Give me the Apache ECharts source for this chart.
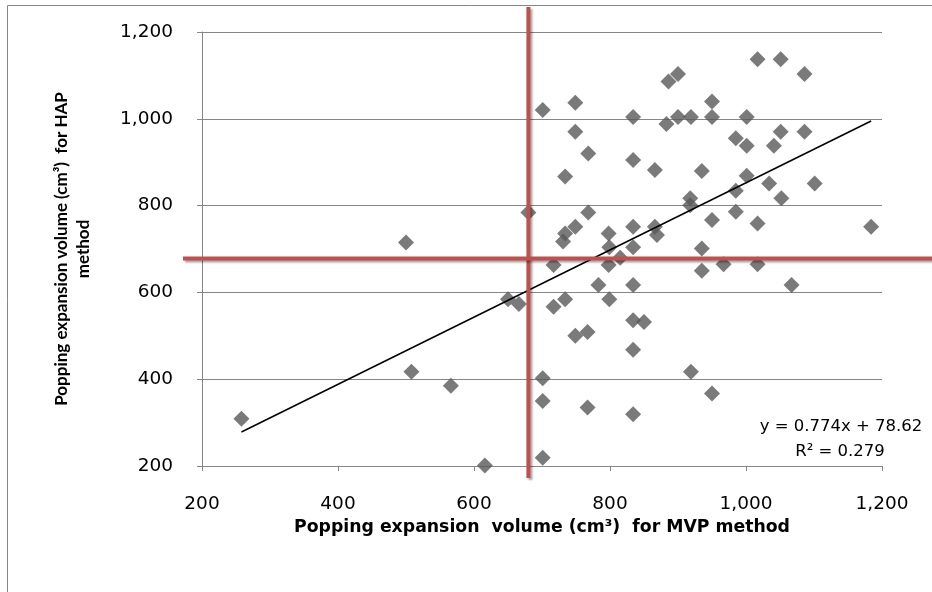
<!DOCTYPE html>
<html><head><meta charset="utf-8">
<script src="https://cdn.jsdelivr.net/npm/echarts@6/dist/echarts.min.js"></script>
<style>html,body{margin:0;padding:0;background:#fff}#c{width:932px;height:592px}</style>
</head><body><div id="c"></div>
<script>
// MVP method (x) and HAP method (y) popping expansion volumes
const mvp = [258,500,508,566,616,650,666,680,701,701,701,701,717,717,731,734,734,734,749,749,749,749,767,768,768,767,783,798,799,798,799,815,834,834,834,834,834,834,834,834,850,866,866,869,883,886,900,900,919,918,918,935,935,935,919,950,950,950,950,967,985,985,985,1001,1001,1001,1017,1017,1017,1034,1041,1051,1051,1052,1067,1086,1086,1101,1184];
const hap = [309,715,417,385,201,584,573,784,1020,402,350,219,663,567,717,736,584,867,751,1037,970,500,509,920,784,335,617,736,704,663,584,680,1004,905,751,704,617,536,468,319,532,882,751,732,988,1086,1103,1004,1004,817,801,880,701,650,417,1040,1004,767,367,665,955,834,786,1004,938,869,1137,759,665,851,938,1137,970,817,617,1103,970,851,751];
const slope = 0.774, intercept = 78.62, r2 = 0.279;
const refMVP = 680, refHAP = 678;   // reference (mean) lines
const axisMin = 200, axisMax = 1200, axisStep = 200;
const xTitle = 'Popping expansion  volume (cm³)  for MVP method';
const yTitle = 'Popping expansion volume (cm³)  for HAP\nmethod';

const WIDE = 'DejaVu Sans';
const NARROW = 'Lato';
const pts = mvp.map((x, i) => [x, hap[i]]);
const xs = mvp.slice().sort((a,b)=>a-b);
const xLo = xs[0], xHi = xs[xs.length-1];
const trend = [[xLo, slope*xLo+intercept],[xHi, slope*xHi+intercept]];

const chart = echarts.init(document.getElementById('c'), null, {renderer:'canvas'});
const axisCommon = {
  type:'value', min:axisMin, max:axisMax, interval:axisStep,
  axisLine:{show:true, lineStyle:{color:'#868686', width:1}},
  axisTick:{show:true, inside:false, length:5, lineStyle:{color:'#868686'}},
  axisLabel:{color:'#000', fontFamily:WIDE, fontSize:18.5},
  nameLocation:'middle'
};
chart.setOption({
  animation:false,
  backgroundColor:'#fff',
  grid:{left:202, right:50, top:32, bottom:126, containLabel:false},
  xAxis: Object.assign({}, axisCommon, {
    name:xTitle, nameGap:53,
    nameTextStyle:{color:'#000', fontFamily:WIDE, fontSize:17.3, fontWeight:'bold'},
    splitLine:{show:false},
    axisLabel:Object.assign({}, axisCommon.axisLabel, {margin:29})
  }),
  yAxis: Object.assign({}, axisCommon, {
    name:yTitle, nameGap:107, nameRotate:90,
    nameTextStyle:{color:'#000', fontFamily:NARROW, fontSize:17, fontWeight:'bold', lineHeight:22},
    splitLine:{show:true, lineStyle:{color:'#868686', width:1}},
    axisLabel:Object.assign({}, axisCommon.axisLabel, {margin:29})
  }),
  series:[
    {type:'scatter', data:pts, symbol:'diamond', symbolSize:16,
     itemStyle:{color:'#595959'}, z:3},
    {type:'line', data:trend, symbol:'none', lineStyle:{color:'#000', width:1.5}, z:4}
  ]
});

const px = chart.convertToPixel({xAxisIndex:0}, refMVP);
const py = chart.convertToPixel({yAxisIndex:0}, refHAP);
const redStyle = {stroke:'#C0504D', lineWidth:4, shadowColor:'rgba(0,0,0,0.35)', shadowBlur:2, shadowOffsetX:2, shadowOffsetY:2};
chart.setOption({
  graphic:[
    {type:'line', shape:{x1:7.5, y1:600, x2:7.5, y2:5.5}, style:{stroke:'#868686', lineWidth:1}, z:1},
    {type:'line', shape:{x1:7.5, y1:5.5, x2:940, y2:5.5}, style:{stroke:'#868686', lineWidth:1}, z:1},
    {type:'line', shape:{x1:px, y1:7, x2:px, y2:478}, style:redStyle, z:10},
    {type:'line', shape:{x1:183, y1:py, x2:932, y2:py}, style:redStyle, z:10},
    {type:'text', x:841, y:427, style:{text:'y = ' + slope + 'x + ' + intercept, font:'16.5px ' + WIDE, fill:'#000', textAlign:'center', textVerticalAlign:'middle'}, z:12},
    {type:'text', x:840, y:452, style:{text:'R² = ' + r2, font:'16.5px ' + WIDE, fill:'#000', textAlign:'center', textVerticalAlign:'middle'}, z:12}
  ]
});
</script></body></html>
